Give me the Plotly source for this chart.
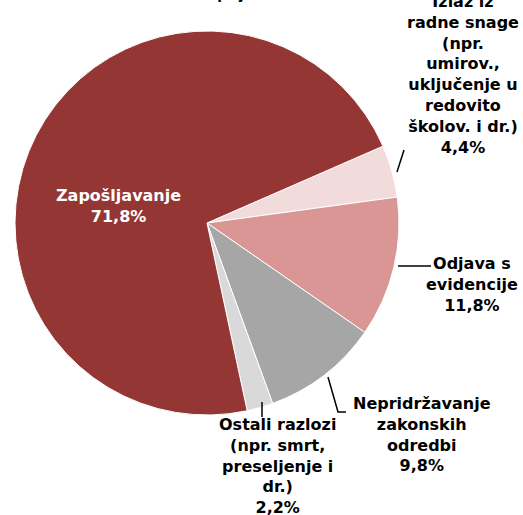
import plotly.graph_objects as go

# razlozi brisanja s evidencije (udio u %)
labels = [
    "Izlaz iz<br>radne snage<br>(npr.<br>umirov.,<br>uključenje u<br>redovito<br>školov. i dr.)",
    "Odjava s<br>evidencije",
    "Nepridržavanje<br>zakonskih<br>odredbi",
    "Ostali razlozi<br>(npr. smrt,<br>preseljenje i<br>dr.)",
    "Zapošljavanje",
]
values = [4.4, 11.8, 9.8, 2.2, 71.8]
colors = ["#f2dcdb", "#d99694", "#a6a6a6", "#d9d9d9", "#943634"]

W, H = 523, 515


def px(x):
    return x / W


def py(y):
    return 1 - y / H


# label centres (pixels) and leader lines
label_pos = [(463, 75), (472, 284), (422, 434), (277, 466), (118, 206)]
label_col = ["black", "black", "black", "black", "white"]
leaders = [
    [(397, 172), (404, 150)],
    [(398, 266), (431, 266)],
    [(328, 377), (338, 412), (346, 412)],
    [(262, 402), (262, 417)],
]

cx, cy, r = 207, 223, 192

fig = go.Figure()
fig.add_trace(go.Pie(
    labels=labels,
    values=values,
    sort=False,
    direction="clockwise",
    rotation=66.4,
    marker=dict(colors=colors, line=dict(color="white", width=1)),
    textinfo="none",
    hoverinfo="label+percent",
    showlegend=False,
    domain=dict(x=[px(cx - r), px(cx + r)], y=[py(cy + r), py(cy - r)]),
))

annotations = []
for lab, val, (x, y), col in zip(labels, values, label_pos, label_col):
    txt = lab + "<br>" + ("%.1f" % val).replace(".", ",") + "%"
    annotations.append(dict(
        x=px(x), y=py(y), xref="paper", yref="paper",
        text=txt, showarrow=False, align="center",
        xanchor="center", yanchor="middle",
        font=dict(family="DejaVu Sans", size=16, color=col, weight="bold"),
    ))

# naslov (odrezan na vrhu slike)
annotations.append(dict(
    x=px(213), y=py(5), xref="paper", yref="paper",
    text="Razlozi prijave", showarrow=False,
    xanchor="center", yanchor="bottom",
    font=dict(family="Arial", size=17, color="black", weight="bold"),
))

shapes = []
for pts in leaders:
    path = "M " + " L ".join("%f,%f" % (px(x), py(y)) for x, y in pts)
    shapes.append(dict(type="path", path=path, xref="paper", yref="paper",
                       line=dict(color="black", width=1.5)))

fig.update_layout(
    width=W, height=H,
    margin=dict(l=0, r=0, t=0, b=0),
    paper_bgcolor="white",
    plot_bgcolor="white",
    annotations=annotations,
    shapes=shapes,
)

fig.write_html("out.html", config={"displayModeBar": False},
               post_script="document.body.style.margin='0';")
